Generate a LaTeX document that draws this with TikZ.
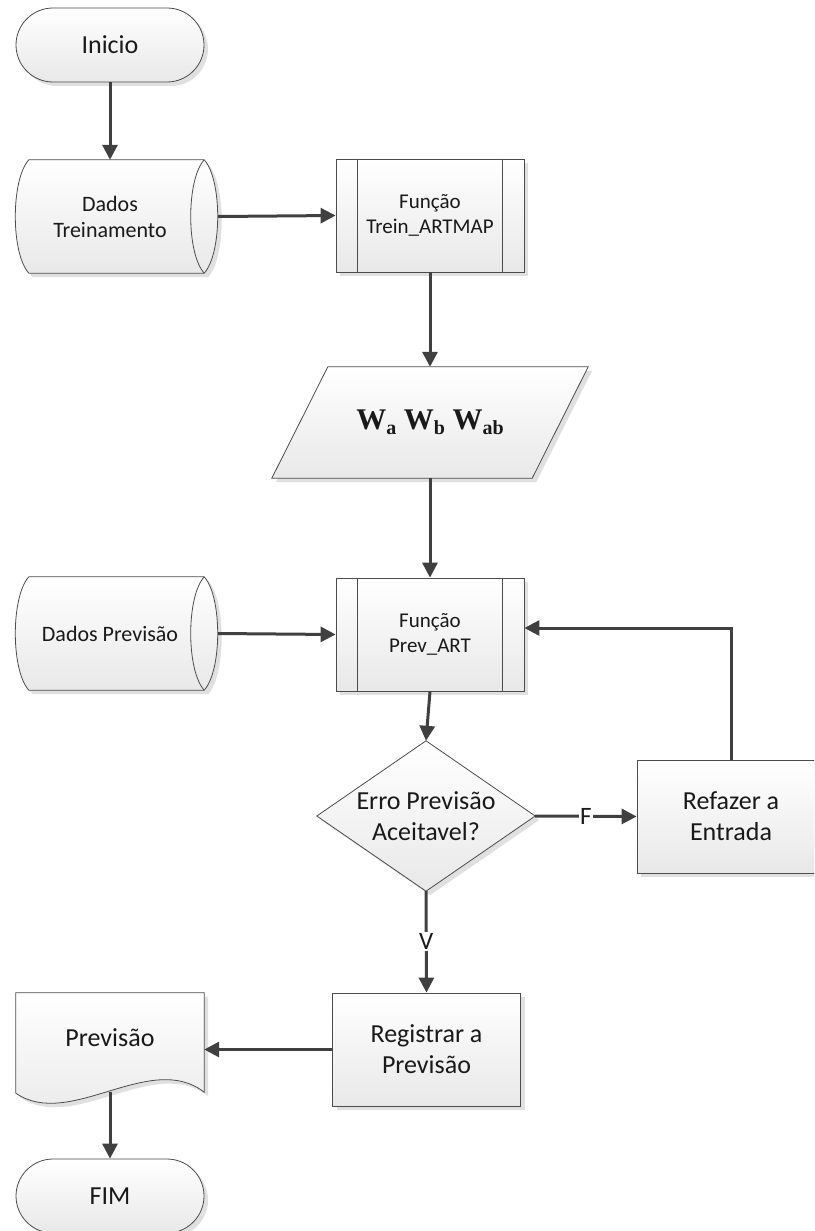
\documentclass[tikz,border=0pt]{standalone}
\usepackage{fontspec}
\setmainfont{Carlito}
\newfontfamily\wfont{Liberation Serif}
\usetikzlibrary{arrows.meta,shadows,calc,backgrounds}

\tikzset{
  outline/.style={draw=black!70, line width=0.8pt, top color=white, bottom color=black!9,
    drop shadow={shadow xshift=4pt, shadow yshift=-4pt, fill=black!12, opacity=1}},
  txt/.style={inner sep=0pt, align=center, text=black!90},
  big/.style={font=\fontsize{26}{31}\selectfont},
  small/.style={font=\fontsize{21}{25}\selectfont},
  term/.style={txt, big, outline, rounded corners=37pt, minimum width=188pt, minimum height=74pt},
  proc/.style={txt, big, outline, minimum width=188pt, minimum height=113pt},
  subproc/.style={txt, small, outline, minimum width=188pt, minimum height=113pt},
  datatext/.style={txt, font=\fontsize{22}{26}\selectfont, minimum width=188pt, minimum height=113pt},
  conn/.style={draw=black!75, line width=3pt, -{Triangle[length=15pt,width=15pt]}},
  lbl/.style={fill=white, inner sep=1.5pt, font=\fontsize{25}{30}\selectfont, text=black!90}
}

% stored-data outline around a node: curved left side and a lens on the right
\newcommand\storedshape[1]{%
  \path[outline] ($(#1.north west)+(13,0)$) -- (#1.north east)
    .. controls +(18,20) and +(18,-20) .. (#1.south east)
    -- ($(#1.south west)+(13,0)$)
    .. controls +(-18,-20) and +(-18,20) .. ($(#1.north west)+(13,0)$) -- cycle;
  \draw[draw=black!70, line width=0.8pt] (#1.north east)
    .. controls +(-18,20) and +(-18,-20) .. (#1.south east);
}
% vertical bars of a predefined-process box
\newcommand\subbars[1]{%
  \draw[draw=black!70, line width=0.8pt] ($(#1.north west)+(22,0)$) -- ($(#1.south west)+(22,0)$);
  \draw[draw=black!70, line width=0.8pt] ($(#1.north east)+(-22,0)$) -- ($(#1.south east)+(-22,0)$);
}
% bold weight symbol with a lowered subscript
\newcommand\wsub[1]{W\raisebox{-5pt}{\fontsize{20}{20}\selectfont #1}}

\begin{document}
\begin{tikzpicture}[x=1pt, y=-1pt]
\useasboundingbox (0,0) rectangle (814,1231);
\clip (0,0) rectangle (814,1231);

% ---- nodes ----
\node[term] (start) at (110,45) {Inicio};
\node[datatext] (dtrain) at (110,216.5) {Dados\\Treinamento};
\node[subproc] (ftrain) at (430,215.5) {Função\\Trein\_ARTMAP};
\node[txt, minimum width=316pt, minimum height=111pt,
      font=\wfont\bfseries\fontsize{30}{34}\selectfont] (wts) at (430,422.5)
      {\wsub{a} \wsub{b} \wsub{ab}};
\node[datatext] (dprev) at (110,633.5) {Dados Previsão};
\node[subproc] (fprev) at (430,634.5) {Função\\Prev\_ART};
\node[txt, big, minimum width=218pt, minimum height=150pt] (dec) at (426,816)
      {Erro Previsão\\Aceitavel?};
\node[proc] (redo) at (731,816.5) {Refazer a\\Entrada};
\node[proc] (reg) at (426.5,1049.5) {Registrar a\\Previsão};
\node[txt, big, minimum width=188pt, minimum height=90pt] (doc) at (110,1038) {Previsão};
\node[term] (fim) at (110,1196) {FIM};

\subbars{ftrain}
\subbars{fprev}

% ---- outlines drawn behind the text ----
\begin{scope}[on background layer]
  \storedshape{dtrain}
  \storedshape{dprev}
  \path[outline] ($(wts.north west)+(56,0)$) -- (wts.north east)
    -- ($(wts.south east)+(-56,0)$) -- (wts.south west) -- cycle;
  \path[outline] (dec.north) -- (dec.east) -- (dec.south) -- (dec.west) -- cycle;
  \path[outline] (doc.north west) -- (doc.north east) -- ($(doc.south east)+(0,9)$)
    .. controls +(-54,-42) and +(54,37) .. ($(doc.south west)+(0,10)$) -- cycle;
\end{scope}

% ---- connectors ----
\draw[conn] (start.south) -- (dtrain.north);
\draw[conn] ($(dtrain.east)+(14,0)$) -- (ftrain.west);
\draw[conn] (ftrain.south) -- (wts.north);
\draw[conn] (wts.south) -- (fprev.north);
\draw[conn] ($(dprev.east)+(14,0)$) -- (fprev.west);
\draw[conn] (fprev.south) -- (dec.north);
\draw[conn] (dec.east) -- node[lbl] {F} (redo.west);
\draw[conn] (redo.north) |- ([yshift=6.5pt]fprev.east);
\draw[conn] (dec.south) -- node[lbl] {V} (reg.north);
\draw[conn] (reg.west) -- (reg.west -| doc.east);
\draw[conn] ($(doc.south)+(0,9)$) -- (fim.north);
\end{tikzpicture}
\end{document}
